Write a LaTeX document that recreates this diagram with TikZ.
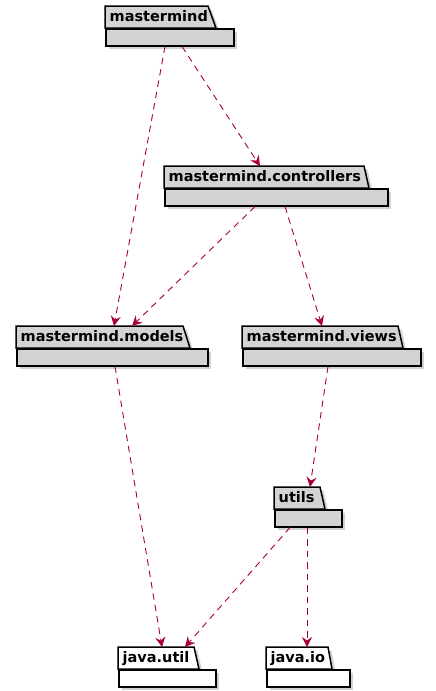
\documentclass[tikz,border=0pt]{standalone}
\usepackage{fontspec}
\setmainfont{DejaVu Sans}
\usetikzlibrary{arrows.meta,shadows}
\definecolor{deparrow}{HTML}{A80036}
\definecolor{pkggray}{HTML}{D3D3D3}
\tikzset{
  pkgshadow/.style={drop shadow={shadow xshift=3.5pt, shadow yshift=-3.5pt, fill=black!45, opacity=0.4}},
  pkgbody/.style={draw=black, line width=1.5pt, rectangle, inner sep=0pt, minimum height=17pt, pkgshadow},
  pkgtab/.style={draw=black, line width=1.5pt, line join=miter, pkgshadow},
  pkglabel/.style={anchor=north west, inner xsep=4.5pt, inner ysep=0pt, minimum height=22pt, text height=11pt, text depth=2pt, font=\bfseries\fontsize{14.5}{16}\selectfont},
  dep/.style={draw=deparrow, line width=0.9pt, dash pattern=on 6.5pt off 5pt, -{Stealth[length=10pt, width=10pt, inset=3.5pt]}},
}
\newcommand\umlpkg[8]{%
  \path[pkgtab, fill=#8] (#2,#6) -- (#4,#6) -- (#5,#6+22) -- (#2,#6+22) -- cycle;
  \node[pkgbody, fill=#8, anchor=north west, minimum width={#3pt-#2pt}] (#1b) at (#2,#6+22) {};
  \node[pkglabel] (#1) at (#2,#6) {#7};
}
\begin{document}
\begin{tikzpicture}[x=1pt,y=-1pt]
\useasboundingbox (0,0) rectangle (436,691);
\umlpkg{mm}{105}{233}{208}{216}{6}{mastermind}{pkggray}
\umlpkg{ctl}{164}{387}{364}{369}{166}{mastermind.controllers}{pkggray}
\umlpkg{mod}{16}{207}{183}{190}{326}{mastermind.models}{pkggray}
\umlpkg{vw}{242}{420}{398}{403}{326}{mastermind.views}{pkggray}
\umlpkg{ut}{274}{341}{320}{325}{487}{utils}{pkggray}
\umlpkg{ju}{118}{215}{194}{199}{647}{java.util}{white}
\umlpkg{jio}{266}{349}{328}{332}{647}{java.io}{white}

\draw[dep] ([xshift=60pt]mmb.south west) -- ([xshift=98pt]mod.north west);
\draw[dep] ([xshift=77pt]mmb.south west) -- ([xshift=96pt]ctl.north west);
\draw[dep] ([xshift=91pt]ctlb.south west) -- ([xshift=116pt]mod.north west);
\draw[dep] ([xshift=121pt]ctlb.south west) -- ([xshift=80pt]vw.north west);
\draw[dep] ([xshift=99pt]modb.south west) -- ([xshift=44pt]ju.north west);
\draw[dep] ([xshift=86pt]vwb.south west) -- ([xshift=36pt]ut.north west);
\draw[dep] ([xshift=16pt]utb.south west) -- ([xshift=67pt]ju.north west);
\draw[dep] ([xshift=33pt]utb.south west) -- ([xshift=41pt]jio.north west);
\end{tikzpicture}
\end{document}
